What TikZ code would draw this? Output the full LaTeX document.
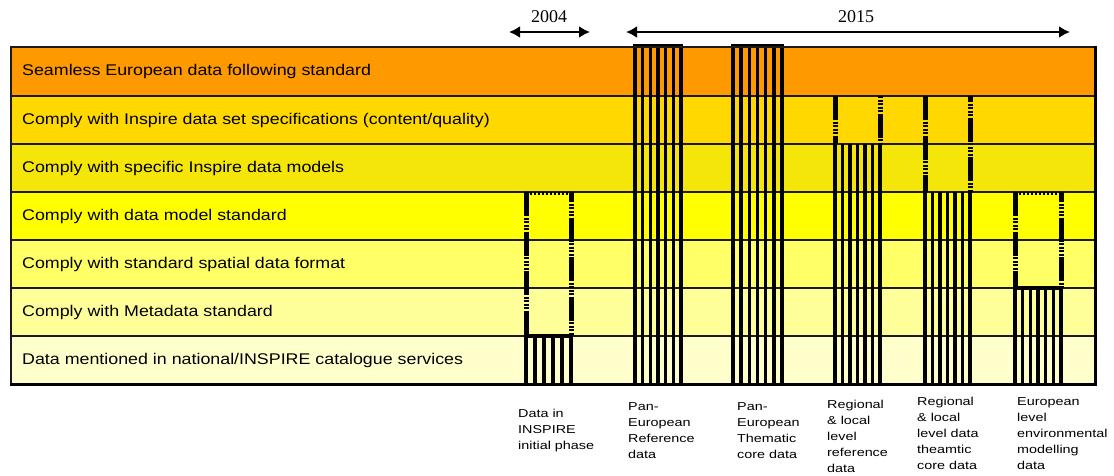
\documentclass[tikz,border=0pt]{standalone}
\usepackage{fontspec}
\setmainfont{Liberation Sans}
\newfontfamily\rowfont[FakeStretch=1.15]{Liberation Sans}
\newfontfamily\colfont[FakeStretch=1.25]{Liberation Sans}
\newfontfamily\yearfont{Liberation Serif}
\usetikzlibrary{arrows.meta}
\definecolor{rowA}{HTML}{FF9900}
\definecolor{rowB}{HTML}{FFD800}
\definecolor{rowC}{HTML}{F5E60A}
\definecolor{rowD}{HTML}{FFFF00}
\definecolor{rowE}{HTML}{FFFF66}
\definecolor{rowF}{HTML}{FFFF99}
\definecolor{rowG}{HTML}{FFFFCC}
\definecolor{linegray}{HTML}{1A1A1A}
\tikzset{
  rowlabel/.style={anchor=west, inner sep=0pt, font=\rowfont\fontsize{15.5}{18}\selectfont},
  collabel/.style={anchor=north west, inner sep=0pt, align=left, font=\colfont\fontsize{11.5}{16}\selectfont},
  yearlabel/.style={inner sep=0pt, font=\yearfont\fontsize{18}{20}\selectfont},
  yeararrow/.style={line width=2.2pt, {Latex[length=11pt,width=12pt]}-{Latex[length=11pt,width=12pt]}},
  rowsep/.style={line width=2pt, draw=linegray},
  outerbar/.style={line width=4.5pt, line join=miter},
  innerbar/.style={line width=3.4pt},
  dashbar/.style={line width=5pt, dash pattern=on 24pt off 1.5pt on 2pt off 1.5pt on 2pt off 1.5pt on 2pt off 1.5pt on 2pt off 1.5pt},
  dottop/.style={line width=3pt, dash pattern=on 2pt off 2pt},
}
\newcommand\stripecol[5]{%
  \pgfmathtruncatemacro\nnlines{#5-1}%
  \foreach \k in {1,...,\nnlines}{%
    \draw[innerbar] ({#1+\k*(#2-#1)/#5},#3) -- ({#1+\k*(#2-#1)/#5},#4);}%
  \draw[outerbar] (#1,#3) -- (#1,#4);
  \draw[outerbar] (#2,#3) -- (#2,#4);
}
\begin{document}
\begin{tikzpicture}[x=1pt,y=-1pt]
\useasboundingbox (0,0) rectangle (1114,475);
\fill[white] (0,0) rectangle (1114,475);
% rows
\foreach \t/\b/\c in {47/96/rowA,96/144/rowB,144/192/rowC,192/240/rowD,240/288/rowE,288/336/rowF,336/384/rowG}{
  \fill[\c] (11,\t) rectangle (1095,\b);}
\foreach \yy in {96,144,192,240,288,336}{
  \draw[rowsep] (11,\yy) -- (1095,\yy);}
% row labels
\node[rowlabel] (r1) at (22,71.5) {Seamless European data following standard};
\node[rowlabel] (r2) at (22,120) {Comply with Inspire data set specifications (content/quality)};
\node[rowlabel] (r3) at (22,168) {Comply with specific Inspire data models};
\node[rowlabel] (r4) at (22,216) {Comply with data model standard};
\node[rowlabel] (r5) at (22,264) {Comply with standard spatial data format};
\node[rowlabel] (r6) at (22,312) {Comply with Metadata standard};
\node[rowlabel] (r7) at (22,360) {Data mentioned in national/INSPIRE catalogue services};
% column 1: Data in INSPIRE initial phase
\draw[dashbar] (526,192) -- (526,336);
\draw[dashbar, dash phase=14pt] (571,192) -- (571,336);
\draw[dottop] (526,193) -- (571,193);
\stripecol{526}{571}{336}{384}{5}
\draw[outerbar] (524,336) -- (573,336);
% column 2: Pan-European Reference data
\stripecol{635}{681}{46}{384}{6}
\draw[outerbar] (633,46) -- (683,46);
% column 3: Pan-European Thematic core data
\stripecol{733}{782}{46}{384}{6}
\draw[outerbar] (731,46) -- (784,46);
% column 4: Regional & local level reference data
\draw[dashbar] (835,96) -- (835,144);
\draw[dashbar, dash phase=22pt] (880,96) -- (880,144);
\stripecol{835}{880}{144}{384}{6}
% column 5: Regional & local level data theamtic core data
\draw[dashbar] (925,96) -- (925,192);
\draw[dashbar, dash phase=18pt] (970,96) -- (970,192);
\stripecol{925}{970}{192}{384}{6}
% column 6: European level environmental modelling data
\draw[dashbar] (1015,192) -- (1015,288);
\draw[dashbar, dash phase=14pt] (1061,192) -- (1061,288);
\draw[dottop] (1015,193) -- (1061,193);
\stripecol{1015}{1061}{288}{384}{6}
\draw[outerbar] (1013,288) -- (1063,288);
% table border
\draw[line width=2pt, draw=linegray] (11,384) -- (11,47) -- (1095,47);
\draw[line width=3pt, line cap=rect] (11,384) -- (1095,384) -- (1095,47);
% years
\coordinate (a04l) at (509,32);
\coordinate (a04r) at (590,32);
\draw[yeararrow] (a04l) -- (a04r);
\node[yearlabel] (t04) at (549,17) {2004};
\coordinate (a15l) at (626,32);
\coordinate (a15r) at (1070,32);
\draw[yeararrow] (a15l) -- (a15r);
\node[yearlabel] (t15) at (856,17) {2015};
% column labels
\node[collabel] (c1) at (518,409) {Data in\\INSPIRE\\initial phase};
\node[collabel] (c2) at (628,402) {Pan-\\European\\Reference\\data};
\node[collabel] (c3) at (737,402) {Pan-\\European\\Thematic\\core data};
\node[collabel] (c4) at (827,400) {Regional\\\& local\\level\\reference\\data};
\node[collabel] (c5) at (917,397) {Regional\\\& local\\level data\\theamtic\\core data};
\node[collabel] (c6) at (1017,397) {European\\level\\environmental\\modelling\\data};
\end{tikzpicture}
\end{document}
